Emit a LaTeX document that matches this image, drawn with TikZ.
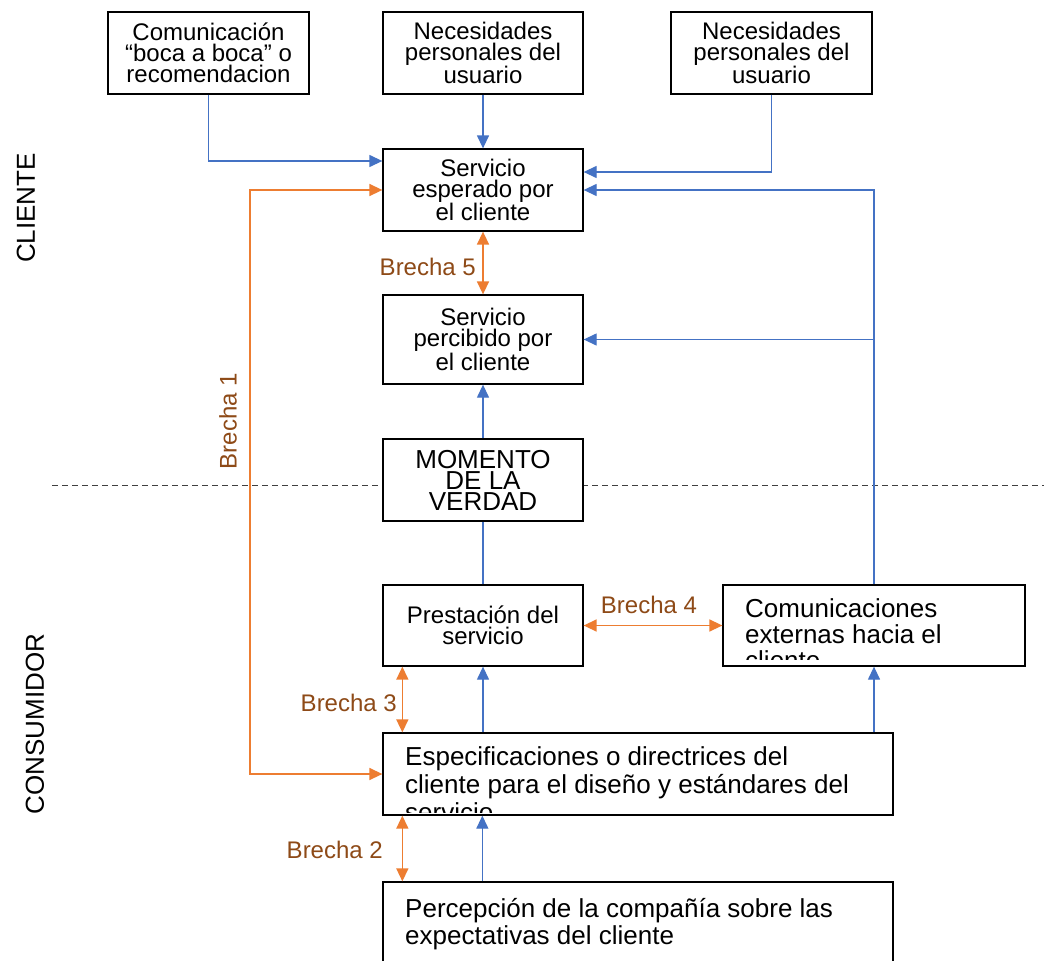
\documentclass[tikz,border=0pt]{standalone}
\usepackage{fontspec}
\setmainfont{Liberation Sans}
\usetikzlibrary{arrows.meta,calc}
\definecolor{cblue}{HTML}{4472C4}
\definecolor{corange}{HTML}{ED7D31}
\definecolor{cbrown}{HTML}{8E4A17}
\begin{document}
\begin{tikzpicture}[x=1pt,y=1pt,
  box/.style={draw=black, line width=1.3pt, fill=white, inner sep=0pt, align=center,
    minimum width=200pt, minimum height=82pt, font=\fontsize{24}{21}\selectfont},
  wtxt/.style={inner sep=0pt, align=left, anchor=base west, font=\fontsize{26}{28}\selectfont},
  bl/.style={draw=cblue, line width=1.3pt, -{Triangle[length=13pt,width=12pt]}},
  bline/.style={draw=cblue, line width=1.3pt},
  gap/.style={draw=corange, line width=1.5pt, {Triangle[length=13pt,width=12pt]}-{Triangle[length=13pt,width=12pt]}},
  lab/.style={text=cbrown, inner sep=0pt, font=\fontsize{24}{24}\selectfont},
  side/.style={inner sep=0pt, rotate=90, font=\fontsize{26}{26}\selectfont}
]
\useasboundingbox (0,0) rectangle (1044,-961);
\fill[white] (0,0) rectangle (1044,-961);

% dashed separator
\coordinate (dl) at (52,-485);
\coordinate (dr) at (1044,-485);
\draw[black!75, line width=1pt, dash pattern=on 6pt off 4pt] (dl) -- (dr);

% boxes
\node[box, minimum width=201pt] (b1) at (208.5,-53) {Comunicación\\“boca a boca” o\\recomendacion};
\node[box] (b2) at (483,-53) {Necesidades\\personales del\\usuario};
\node[box, minimum width=201pt] (b3) at (771.5,-53) {Necesidades\\personales del\\usuario};
\node[box] (esp) at (483,-190) {Servicio\\esperado por\\el cliente};
\node[box, minimum height=89pt] (perc) at (483,-339.5) {Servicio\\percibido por\\el cliente};
\node[box, font=\fontsize{26}{21}\selectfont] (mom) at (483,-480) {MOMENTO\\DE LA\\VERDAD};
\node[box, minimum height=81pt] (pres) at (483,-625.5) {Prestación del\\servicio};
\node[box, minimum width=302pt, minimum height=81pt] (com) at (874,-625.5) {};
\node[box, minimum width=510pt] (spec) at (638,-774) {};
\node[box, minimum width=510pt, minimum height=118pt] (pcomp) at (638,-941) {};

% clipped texts
\begin{scope}
  \clip ([yshift=7pt]com.south west) rectangle (com.north east);
  \node[wtxt, font=\fontsize{26}{26}\selectfont] (comtxt) at (745,-669) {Comunicaciones\\externas hacia el\\cliente};
\end{scope}
\begin{scope}
  \clip ([yshift=3pt]spec.south west) rectangle (spec.north east);
  \node[wtxt, font=\fontsize{26}{28}\selectfont] (spectxt) at (405,-821) {Especificaciones o directrices del\\cliente para el diseño y estándares del\\servicio};
\end{scope}
\node[wtxt, font=\fontsize{26}{27}\selectfont] (pcomptxt) at (405,-944) {Percepción de la compañía sobre las\\expectativas del cliente};

% blue connectors
\draw[bl] (b1.south) |- ([yshift=29pt]esp.west);
\draw[bl] (b2.south) -- (esp.north);
\draw[bl] (b3.south) |- ([yshift=18pt]esp.east);
\draw[bl] (com.north) |- (esp.east);
\draw[bl] (com.north |- perc.east) -- (perc.east);
\draw[bl] (mom.north) -- (perc.south);
\draw[bline] (pres.north) -- (mom.south);
\draw[bl] (pres.south |- spec.north) -- (pres.south);
\draw[bl] (com.south |- spec.north) -- (com.south);
\draw[bl] ([xshift=100pt]pcomp.north west) -- ([xshift=100pt]spec.south west);

% gaps (orange)
\coordinate (g1b) at (250,-774);
\coordinate (g1t) at (250,-190);
\draw[gap] (spec.west) -- (g1b) -- (g1t) -- (esp.west);
\draw[gap] (esp.south) -- (perc.north);
\draw[gap] (pres.east) -- (com.west);
\draw[gap] ([xshift=20pt]pres.south west) -- ([xshift=20pt]spec.north west);
\draw[gap] ([xshift=20pt]spec.south west) -- ([xshift=20pt]pcomp.north west);

% labels
\node[lab, anchor=east] (l5) at (476,-267) {Brecha 5};
\node[lab] (l4) at (649,-605) {Brecha 4};
\node[lab, anchor=east] (l3) at (397,-703) {Brecha 3};
\node[lab, anchor=east] (l2) at (383,-850) {Brecha 2};
\node[lab, rotate=90] (l1) at (228,-421) {Brecha 1};
\node[side] (cli) at (26,-208) {CLIENTE};
\node[side] (cons) at (35,-724) {CONSUMIDOR};
\end{tikzpicture}
\end{document}
